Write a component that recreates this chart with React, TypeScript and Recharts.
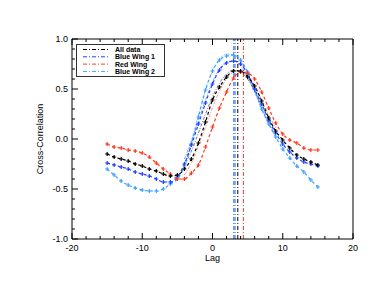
import { LineChart, Line, XAxis, YAxis, ReferenceLine } from "recharts";

const LAGS = [-15, -14, -13, -12, -11, -10, -9, -8, -7, -6, -5, -4, -3, -2, -1, 0, 1, 2, 3, 4, 5, 6, 7, 8, 9, 10, 11, 12, 13, 14, 15];
const ALL_DATA = [-0.15, -0.18, -0.2, -0.22, -0.25, -0.27, -0.3, -0.32, -0.35, -0.37, -0.36, -0.3, -0.2, -0.04, 0.17, 0.39, 0.52, 0.62, 0.68, 0.68, 0.62, 0.53, 0.38, 0.21, 0.08, -0.01, -0.09, -0.16, -0.2, -0.23, -0.26];
const BLUE_WING_1 = [-0.24, -0.26, -0.28, -0.3, -0.33, -0.35, -0.37, -0.4, -0.43, -0.43, -0.38, -0.25, -0.06, 0.15, 0.36, 0.55, 0.69, 0.76, 0.78, 0.75, 0.65, 0.5, 0.35, 0.19, 0.06, -0.05, -0.13, -0.19, -0.23, -0.25, -0.27];
const RED_WING = [-0.05, -0.08, -0.09, -0.11, -0.12, -0.14, -0.18, -0.24, -0.3, -0.35, -0.4, -0.4, -0.34, -0.26, -0.08, 0.12, 0.31, 0.47, 0.61, 0.67, 0.66, 0.6, 0.47, 0.31, 0.16, 0.05, -0.01, -0.04, -0.09, -0.11, -0.11];
const BLUE_WING_2 = [-0.3, -0.36, -0.42, -0.46, -0.49, -0.51, -0.52, -0.52, -0.5, -0.45, -0.4, -0.27, -0.05, 0.22, 0.49, 0.68, 0.79, 0.83, 0.84, 0.79, 0.67, 0.5, 0.3, 0.15, 0.02, -0.1, -0.19, -0.27, -0.33, -0.41, -0.48];

// thin dash-dot fitted curves around the peak
const FIT_LAGS = [-4, -3, -2, -1, 0, 1, 2, 3, 4, 5, 6, 7, 8, 9];
const ALL_FIT = [-0.26, -0.12, 0.06, 0.25, 0.42, 0.56, 0.65, 0.69, 0.67, 0.6, 0.48, 0.34, 0.2, 0.08];
const BLUE_1_FIT = [-0.2, -0.02, 0.18, 0.39, 0.57, 0.7, 0.77, 0.78, 0.73, 0.62, 0.47, 0.31, 0.16, 0.04];
const RED_FIT = [-0.36, -0.24, -0.07, 0.12, 0.31, 0.48, 0.6, 0.67, 0.68, 0.63, 0.53, 0.39, 0.24, 0.11];
const BLUE_2_FIT = [-0.24, -0.02, 0.24, 0.49, 0.68, 0.8, 0.85, 0.84, 0.77, 0.64, 0.47, 0.3, 0.15, 0.02];

const SERIES_NAMES = ["All data", "Blue Wing 1", "Red Wing", "Blue Wing 2"];
const SERIES_KEYS = ["all", "blue1", "red", "blue2"];
const SERIES_COLORS = ["#000000", "#2040ff", "#ff3a1c", "#3da2ff"];
const PEAK_LAGS = [3.6, 3.2, 4.4, 3.0];

const X_TICKS = [-20, -18, -16, -14, -12, -10, -8, -6, -4, -2, 0, 2, 4, 6, 8, 10, 12, 14, 16, 18, 20];
const Y_TICKS = [-1, -0.9, -0.8, -0.7, -0.6, -0.5, -0.4, -0.3, -0.2, -0.1, 0, 0.1, 0.2, 0.3, 0.4, 0.5, 0.6, 0.7, 0.8, 0.9, 1];
const X_MAJOR = [-20, -10, 0, 10, 20];
const X_LABELS = ["-20", "-10", "0", "10", "20"];
const Y_MAJOR = [-1, -0.5, 0, 0.5, 1];
const Y_LABELS = ["-1.0", "-0.5", "0.0", "0.5", "1.0"];

const data = LAGS.map((lag, i) => {
  const f = FIT_LAGS.indexOf(lag);
  return {
    lag,
    all: ALL_DATA[i],
    blue1: BLUE_WING_1[i],
    red: RED_WING[i],
    blue2: BLUE_WING_2[i],
    allFit: f >= 0 ? ALL_FIT[f] : null,
    blue1Fit: f >= 0 ? BLUE_1_FIT[f] : null,
    redFit: f >= 0 ? RED_FIT[f] : null,
    blue2Fit: f >= 0 ? BLUE_2_FIT[f] : null,
  };
});

const FONT = "'Liberation Sans', Arial, sans-serif";

const isMajor = (list: number[], v: number) => list.findIndex((m) => Math.abs(m - v) < 1e-6);

const BottomTick = ({ x, y, payload }: any) => {
  const idx = isMajor(X_MAJOR, payload.value);
  return (
    <g>
      <line x1={x} x2={x} y1={y} y2={y - (idx >= 0 ? 6 : 3)} stroke="#000" />
      {idx >= 0 && (
        <text x={x} y={y + 11.5} textAnchor="middle" fontSize={9} fontFamily={FONT} fill="#000">
          {X_LABELS[idx]}
        </text>
      )}
    </g>
  );
};

const TopTick = ({ x, y, payload }: any) => {
  const idx = isMajor(X_MAJOR, payload.value);
  return <line x1={x} x2={x} y1={y} y2={y + (idx >= 0 ? 6 : 3)} stroke="#000" />;
};

const LeftTick = ({ x, y, payload }: any) => {
  const idx = isMajor(Y_MAJOR, payload.value);
  return (
    <g>
      <line x1={x} x2={x + (idx >= 0 ? 6 : 3)} y1={y} y2={y} stroke="#000" />
      {idx >= 0 && (
        <text x={x - 4} y={y + 3} textAnchor="end" fontSize={9} fontFamily={FONT} fill="#000">
          {Y_LABELS[idx]}
        </text>
      )}
    </g>
  );
};

const RightTick = ({ x, y, payload }: any) => {
  const idx = isMajor(Y_MAJOR, payload.value);
  return <line x1={x} x2={x - (idx >= 0 ? 6 : 3)} y1={y} y2={y} stroke="#000" />;
};

const plusDot = (color: string) => (props: any) => {
  const { cx, cy, index } = props;
  if (cx == null || cy == null) return <g key={index} />;
  return (
    <path
      key={index}
      d={`M${cx - 2},${cy}h4M${cx},${cy - 2}v4`}
      stroke={color}
      strokeWidth={1.2}
      fill="none"
    />
  );
};

const YTitle = ({ viewBox }: any) => {
  const cx = 35;
  const cy = viewBox.y + viewBox.height / 2;
  return (
    <text
      x={cx}
      y={cy}
      transform={`rotate(-90 ${cx} ${cy})`}
      textAnchor="middle"
      fontSize={9}
      fontFamily={FONT}
      fill="#000"
    >
      Cross-Correlation
    </text>
  );
};

const XTitle = ({ viewBox }: any) => (
  <text
    x={viewBox.x + viewBox.width / 2}
    y={253}
    textAnchor="middle"
    fontSize={9}
    fontFamily={FONT}
    fill="#000"
  >
    Lag
  </text>
);

function LegendBox() {
  return (
    <div style={{ position: "absolute", left: 68, top: 36, width: 89, height: 33 }}>
      <svg width={89} height={33}>
        <rect x={0.5} y={0.5} width={88} height={32} fill="#fff" stroke="#333" />
        {SERIES_NAMES.map((name, i) => {
          const cy = 5.5 + i * 7.3;
          return (
            <g key={name}>
              <line x1={7} x2={34} y1={cy} y2={cy} stroke={SERIES_COLORS[i]} strokeDasharray="4 2 1 2" />
              <text x={39} y={cy + 2.6} fontSize={7} fontFamily={FONT} fontWeight="bold" fill="#000">
                {name}
              </text>
            </g>
          );
        })}
      </svg>
    </div>
  );
}

export default function App() {
  const order = [3, 1, 2, 0];
  return (
    <div style={{ position: "relative", width: 366, height: 279 }}>
      <LineChart width={366} height={279} data={data} margin={{ top: 30, right: 20, bottom: 47, left: 63 }}>
        <XAxis
          xAxisId="b"
          type="number"
          dataKey="lag"
          domain={[-20, 20]}
          ticks={X_TICKS}
          interval={0}
          height={1}
          tickSize={0}
          tickMargin={0}
          tick={<BottomTick />}
          axisLine={{ stroke: "#000" }}
          label={<XTitle />}
          allowDataOverflow
        />
        <XAxis
          xAxisId="t"
          orientation="top"
          type="number"
          dataKey="lag"
          domain={[-20, 20]}
          ticks={X_TICKS}
          interval={0}
          height={1}
          tickSize={0}
          tickMargin={0}
          tick={<TopTick />}
          axisLine={{ stroke: "#000" }}
        />
        <YAxis
          yAxisId="l"
          type="number"
          domain={[-1, 1]}
          ticks={Y_TICKS}
          interval={0}
          width={1}
          tickSize={0}
          tickMargin={0}
          tick={<LeftTick />}
          axisLine={{ stroke: "#000" }}
          label={<YTitle />}
          allowDataOverflow
        />
        <YAxis
          yAxisId="r"
          orientation="right"
          type="number"
          domain={[-1, 1]}
          ticks={Y_TICKS}
          interval={0}
          width={1}
          tickSize={0}
          tickMargin={0}
          tick={<RightTick />}
          axisLine={{ stroke: "#000" }}
        />
        {order.map((i) => (
          <ReferenceLine
            key={`ref-${i}`}
            xAxisId="b"
            yAxisId="l"
            x={PEAK_LAGS[i]}
            stroke={SERIES_COLORS[i]}
            strokeDasharray="4 2 1 2"
            strokeWidth={1}
          />
        ))}
        {order.map((i) => (
          <Line
            key={`${SERIES_KEYS[i]}Fit`}
            xAxisId="b"
            yAxisId="l"
            type="monotone"
            dataKey={`${SERIES_KEYS[i]}Fit`}
            stroke={SERIES_COLORS[i]}
            strokeOpacity={0.75}
            strokeWidth={0.7}
            strokeDasharray="3 1.5 1 1.5"
            dot={false}
            activeDot={false}
            legendType="none"
            isAnimationActive={false}
          />
        ))}
        {order.map((i) => (
          <Line
            key={SERIES_KEYS[i]}
            xAxisId="b"
            yAxisId="l"
            type="monotone"
            dataKey={SERIES_KEYS[i]}
            name={SERIES_NAMES[i]}
            stroke={SERIES_COLORS[i]}
            strokeWidth={1.2}
            strokeDasharray="3 2.5"
            dot={plusDot(SERIES_COLORS[i])}
            activeDot={false}
            isAnimationActive={false}
          />
        ))}
      </LineChart>
      <LegendBox />
    </div>
  );
}
